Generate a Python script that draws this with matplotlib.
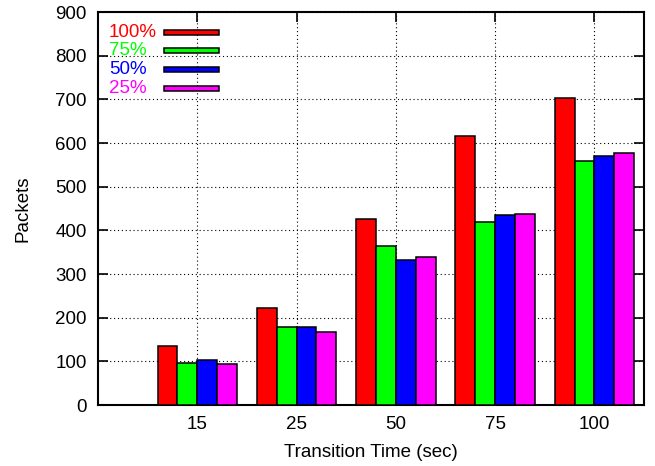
import numpy as np
import matplotlib.pyplot as plt
from matplotlib.patches import Rectangle

plt.rcParams['font.family'] = ['Liberation Sans', 'DejaVu Sans']
plt.rcParams['font.size'] = 13.5

# transition times and packet counts per load level
times = ['15', '25', '50', '75', '100']
p100 = [134, 222, 427, 615, 704]
p75 = [97, 178, 363, 418, 558]
p50 = [104, 179, 333, 435, 571]
p25 = [93, 168, 338, 437, 577]

labels = ['100%', '75%', '50%', '25%']
colors = ['#ff0000', '#00ff00', '#0000ff', '#ff00ff']
series = [p100, p75, p50, p25]

fig = plt.figure(figsize=(6.55, 4.66), dpi=100)
ax = fig.add_axes([0.1496, 0.1309, 0.8336, 0.8433])

x = np.arange(len(times))
w = 0.2
for i, (vals, c) in enumerate(zip(series, colors)):
    ax.bar(x + (i - 1.5) * w, vals, w, color=c, edgecolor='black',
           linewidth=1.1, zorder=3)

ax.set_xlim(-1, 4.5)
ax.set_ylim(0, 900)
ax.set_xticks(x)
ax.set_xticklabels(times)
ax.set_yticks(np.arange(0, 901, 100))

ax.grid(True, color='black', linestyle=(0, (1, 2.5)), linewidth=0.8, zorder=0)
ax.tick_params(direction='in', length=7, width=1.2, top=True, right=True,
               labelsize=13.5, pad=8)
for s in ax.spines.values():
    s.set_linewidth(1.5)

ax.set_xlabel('Transition Time (sec)', fontsize=13.5)
ax.set_ylabel('Packets', fontsize=13.5)
ax.xaxis.set_label_coords(0.5, -0.10)
ax.yaxis.set_label_coords(-0.122, 0.5)

# key in the top left corner: coloured text, sample bar to its right
rows = [0.948, 0.901, 0.853, 0.805]
for lab, c, yy in zip(labels, colors, rows):
    ax.text(0.020, yy, lab, color=c, fontsize=13.5, ha='left', va='center',
            transform=ax.transAxes)
    ax.add_patch(Rectangle((0.121, yy - 0.0065), 0.101, 0.013,
                           transform=ax.transAxes, facecolor=c,
                           edgecolor='black', linewidth=1.1, zorder=4))

fig.savefig('out.png', dpi=100)
